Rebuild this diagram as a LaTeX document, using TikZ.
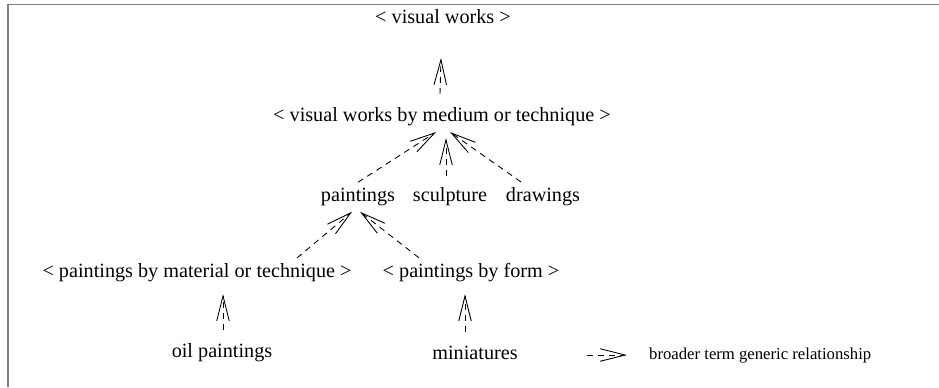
\documentclass[tikz,border=0pt]{standalone}
\usepackage{fontspec}
\setmainfont{Liberation Serif}
\usetikzlibrary{arrows.meta,calc}

\tikzset{
  term/.style={align=center, inner sep=2pt, font=\fontsize{11.5}{13.5}\selectfont},
  bt/.style={dash pattern=on 1.2mm off 1mm, line width=0.5pt,
    -{Straight Barb[length=5mm, width=2.5mm, line width=0.5pt]}},
}

\begin{document}
\begin{tikzpicture}[x=0.02cm, y=-0.02cm]

		\useasboundingbox (0,0) rectangle (939,387);

		% frame
		\draw [line width=1.1pt, gray] (8,387) -- (8,4.5) -- (939,4.5);

		% top levels
		\node[term] (vw) at (443,17) {< visual works >};
		\node[term] (vwbm) at (442,117) {< visual works by medium or technique >};

		% row 3
		\node[term] (paint) at (358,197) {paintings};
		\node[term] (sculpt) at (450,197) {sculpture};
		\node[term] (draw) at (543,197) {drawings};

		% row 4
		\node[term] (pmt) at (197,273) {< paintings by material or technique >};
		\node[term] (pbf) at (471,273) {< paintings by form >};

		% row 5
		\node[term] (oil) at (222,353) {oil paintings};
		\node[term] (mini) at (475,353) {miniatures};

		% broader term links
		\draw [bt] ($(vwbm.north)+(-2,-10)$) -- ($(vw.south)+(-2,30)$);
		\draw [bt] ($(paint.north)+(0,-2)$) -- ($(vwbm.south)+(-6,2)$);
		\draw [bt] ($(sculpt.north)+(-4,-8)$) -- ($(vwbm.south)+(4,8)$);
		\draw [bt] ($(draw.north)+(-22,-2)$) -- ($(vwbm.south)+(8,2)$);
		\draw [bt] ($(pmt.north)+(100,-2)$) -- ($(paint.south)+(-6,2)$);
		\draw [bt] ($(pbf.north)+(-52,-2)$) -- ($(paint.south)+(2,2)$);
		\draw [bt] ($(oil.north)+(1,-10)$) -- ($(pmt.south)+(26,8)$);
		\draw [bt] ($(mini.north)+(-10,-10)$) -- ($(pbf.south)+(-6,8)$);

		% legend
		\coordinate (lgA) at (587,355);
		\coordinate (lgB) at (627,355);
		\draw [bt] (lgA) -- (lgB);
		\node[anchor=west, font=\fontsize{9.5}{11}\selectfont] (lgtext) at (643,355) {broader term generic relationship};

	\end{tikzpicture}
\end{document}
